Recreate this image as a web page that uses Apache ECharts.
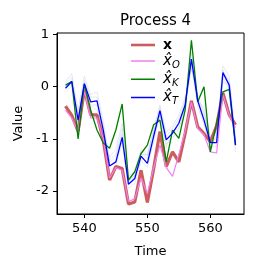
<!DOCTYPE html>
<html><head><meta charset="utf-8">
<script src="https://cdn.jsdelivr.net/npm/echarts@6/dist/echarts.min.js"></script>
<style>html,body{margin:0;padding:0;background:#fff}#c{width:256px;height:272px}</style>
</head><body><div id="c"></div>
<script>
const times = [537,538,539,540,541,542,543,544,545,546,547,548,549,550,551,552,553,554,555,556,557,558,559,560,561,562,563,564];
const xTicks = [540, 550, 560];
const yTicks = [-2, -1, 0, 1];
const seriesX = [-0.37,-0.55,-0.85,-0.06,-0.54,-0.54,-1.02,-1.79,-1.53,-1.57,-2.25,-2.21,-1.6,-2.22,-1.57,-0.86,-1.53,-1.25,-1.44,-0.9,-0.27,-0.77,-0.9,-1.05,-0.75,-0.12,-0.54,-0.73];
const seriesO = [-0.45,-0.6,-0.85,-0.08,-0.6,-0.6,-1.0,-1.75,-1.55,-1.6,-2.2,-2.15,-1.75,-2.05,-1.55,-1.12,-1.55,-1.72,-1.3,-0.85,-0.3,-0.8,-0.92,-1.25,-1.27,-0.15,-0.55,-0.78];
const seriesK = [0.03,0.1,-1.0,0.05,-0.45,-0.83,-1.08,-1.18,-0.83,-0.33,-1.79,-1.63,-1.28,-1.12,-0.73,-0.64,-1.44,-0.83,-0.99,-0.45,0.89,-0.29,0.0,-1.25,-0.7,-0.1,-0.05,-1.12];
const seriesT = [-0.03,0.1,-0.64,0.06,-0.29,-0.27,-0.83,-1.52,-1.44,-0.97,-1.87,-1.76,-1.33,-1.47,-0.95,-0.46,-1.02,-0.89,-0.7,-0.35,0.53,-0.27,-0.64,-1.07,-1.07,0.27,0.03,-1.12];
const sample1 = [0.05,0.18,-0.55,0.12,-0.2,-0.2,-0.75,-1.45,-1.35,-0.9,-1.8,-1.7,-1.25,-1.38,-0.88,-0.4,-0.95,-0.8,-0.62,-0.25,0.45,-0.2,-0.55,-1.0,-1.0,0.32,0.1,-1.0];
const sample2 = [0.0,0.12,-0.75,0.08,-0.35,-0.45,-0.9,-1.35,-1.2,-0.7,-1.82,-1.7,-1.3,-1.3,-0.85,-0.55,-1.15,-0.85,-0.8,-0.4,0.65,-0.28,-0.4,-1.15,-0.95,0.1,0.0,-1.1];
const sample3 = [-0.1,0.02,-0.7,-0.02,-0.35,-0.35,-0.9,-1.6,-1.52,-1.05,-1.95,-1.85,-1.42,-1.55,-1.05,-0.55,-1.1,-0.98,-0.8,-0.45,0.4,-0.38,-0.72,-1.15,-1.15,0.18,-0.05,-1.25];
const sample4 = [0.1,0.25,-0.45,0.2,-0.15,-0.1,-0.65,-1.4,-1.3,-0.8,-1.72,-1.62,-1.2,-1.32,-0.8,-0.35,-0.88,-0.75,-0.55,-0.2,0.35,-0.15,-0.5,-0.95,-0.9,0.4,0.2,-0.95];

const pair = arr => times.map((t, i) => [t, arr[i]]);
const FONT = 'DejaVu Sans';
const faint = [sample1, sample2, sample3, sample4].map((s, k) => ({
  name: 'sample' + k, type: 'line', data: pair(s), symbol: 'none', silent: true,
  lineStyle: { color: 'rgba(176,196,222,0.45)', width: 0.8 }
}));
const main = [
  { name: 'x', data: seriesX, color: '#cd5c5c', width: 3.2 },
  { name: 'xO', data: seriesO, color: '#ee82ee', width: 1.2 },
  { name: 'xK', data: seriesK, color: '#007f00', width: 1.3 },
  { name: 'xT', data: seriesT, color: '#0000ff', width: 1.3 }
].map(s => ({
  name: s.name, type: 'line', data: pair(s.data), symbol: 'none', showSymbol: false,
  itemStyle: { color: s.color },
  lineStyle: { color: s.color, width: s.width }
}));
const labelMap = { x: '{b|x}', xO: '{h|x̂}{s|O}', xK: '{h|x̂}{s|K}', xT: '{h|x̂}{s|T}' };
const thick = 'path://M0,0h24v2.6h-24z';
const thin = 'path://M0,0h24v1.5h-24z';

const chart = echarts.init(document.getElementById('c'), null, { renderer: 'canvas' });
chart.setOption({
  animation: false,
  backgroundColor: '#fff',
  title: { text: 'Process 4', left: 150.5, top: 9, textAlign: 'center',
    textStyle: { fontFamily: FONT, fontSize: 15, fontWeight: 'normal', color: '#000' } },
  grid: { left: 57, top: 33, width: 187, height: 181, show: true, borderColor: '#000', borderWidth: 1, containLabel: false },
  legend: {
    data: [
      { name: 'x', icon: thick },
      { name: 'xO', icon: thin },
      { name: 'xK', icon: thin },
      { name: 'xT', icon: thin }
    ], orient: 'vertical', left: 126, top: 33,
    itemWidth: 24, itemHeight: 14, itemGap: 1.5,
    formatter: n => labelMap[n],
    textStyle: { color: '#000', fontFamily: FONT, padding: [0,0,0,3],
      rich: {
        b: { fontFamily: FONT, fontSize: 14, fontWeight: 'bold', color: '#000', lineHeight: 18.5 },
        h: { fontFamily: FONT, fontSize: 15, fontStyle: 'italic', color: '#000', lineHeight: 18.5, verticalAlign: 'middle' },
        s: { fontFamily: FONT, fontSize: 10, fontStyle: 'italic', color: '#000', lineHeight: 18.5, verticalAlign: 'bottom' }
      } }
  },
  xAxis: {
    type: 'value', min: 535.65, max: 565.35,
    name: 'Time', nameLocation: 'middle', nameGap: 31,
    nameTextStyle: { fontFamily: FONT, fontSize: 13, color: '#000' },
    axisLine: { show: true, onZero: false, lineStyle: { color: '#000', width: 1 } },
    axisTick: { show: true, customValues: xTicks, length: 4, lineStyle: { color: '#000' } },
    axisLabel: { customValues: xTicks, fontFamily: FONT, fontSize: 13, color: '#000', margin: 8 },
    splitLine: { show: false }
  },
  yAxis: {
    type: 'value', min: -2.44, max: 1.03,
    name: 'Value', nameLocation: 'middle', nameGap: 32,
    nameTextStyle: { fontFamily: FONT, fontSize: 13, color: '#000' },
    axisLine: { show: true, onZero: false, lineStyle: { color: '#000', width: 1 } },
    axisTick: { show: true, customValues: yTicks, length: 4, lineStyle: { color: '#000' } },
    axisLabel: { customValues: yTicks, fontFamily: FONT, fontSize: 13, color: '#000', margin: 8 },
    splitLine: { show: false }
  },
  series: faint.concat(main)
});
</script></body></html>
